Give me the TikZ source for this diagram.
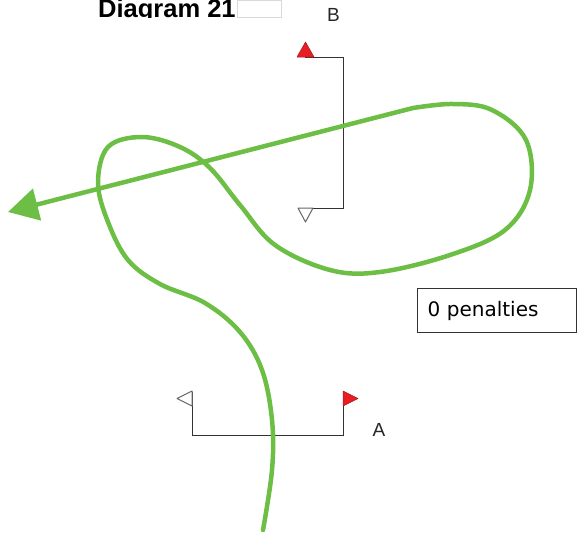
\documentclass[tikz,border=0pt]{standalone}
\usepackage{fontspec}
\setmainfont{Liberation Sans}
\newfontfamily\boxfont{DejaVu Sans}
\usetikzlibrary{arrows.meta}
\definecolor{trackgreen}{RGB}{108,190,69}
\definecolor{flagred}{RGB}{230,30,36}

\begin{document}
\begin{tikzpicture}[
    x=1pt,
    y=-1pt,
    gate line/.style={
        draw=black!80,
        line width=1pt
    },
    red flag/.style={
        fill=flagred,
        draw=flagred!75!black,
        line width=0.5pt,
        line join=round
    },
    open flag/.style={
        fill=white,
        draw=black!60,
        line width=1pt,
        line join=round
    },
    track/.style={
        draw=trackgreen,
        line width=4.5pt,
        line cap=round,
        line join=round,
        -{Triangle[length=30pt,width=32pt]}
    },
    gate label/.style={
        font=\fontsize{19}{19}\selectfont,
        text=black!85,
        inner sep=0pt
    },
    penalty box/.style={
        draw=black!80,
        line width=1pt,
        text width=139pt,
        inner xsep=10pt,
        minimum height=44pt,
        align=left,
        font=\boxfont\fontsize{20}{24}\selectfont
    }
]

\useasboundingbox (0,0) rectangle (577,535);

%% --- Titre ---
\begin{scope}
    \clip (0,0) rectangle (577,18);
    \node[anchor=base west, inner sep=0pt, font=\bfseries\fontsize{25.5}{26}\selectfont] (title) at (98,17.5) {Diagram 21};
    \draw[black!15] (237,0) rectangle (281,17);
\end{scope}

%% --- Porte B ---
\coordinate (B1) at (305,57);
\coordinate (B2) at (343,57);
\coordinate (B3) at (343,208);
\coordinate (B4) at (298,208);
\draw[gate line] (B1) -- (B2) -- (B3) -- (B4);
\draw[red flag] (297,57) -- (314,57) -- (305.5,42) -- cycle;
\draw[open flag] (298,208) -- (313,208) -- (305.5,222) -- cycle;
\node[gate label] (labelB) at (333.5,15) {B};

%% --- Porte A ---
\coordinate (A1) at (192,392);
\coordinate (A2) at (192,435);
\coordinate (A3) at (343,435);
\coordinate (A4) at (343,392);
\draw[gate line] (A1) -- (A2) -- (A3) -- (A4);
\draw[open flag] (192,391) -- (192,406) -- (177,398.5) -- cycle;
\draw[red flag] (343,391) -- (343,406) -- (358,398.5) -- cycle;
\node[gate label] (labelA) at (379,430) {A};

%% --- Trajectoire ---
\coordinate (finish) at (8,212);
\draw[track] plot[smooth, tension=0.6] coordinates {
    (263,530) (272,470) (272,420) (262,370) (240,332) (205,303)
    (160,284) (128,260) (108,222) (98,183) (108,147) (142,137)
    (180,147) (210,168) (240,205) (275,245) (330,270) (380,272)
    (450,255) (505,230) (530,190) (526,140) (492,110) (453,104)
    (413,108)
} -- (finish);

%% --- Pénalités ---
\node[penalty box, anchor=north west] (penalties) at (417,288) {0 penalties};

\end{tikzpicture}
\end{document}
